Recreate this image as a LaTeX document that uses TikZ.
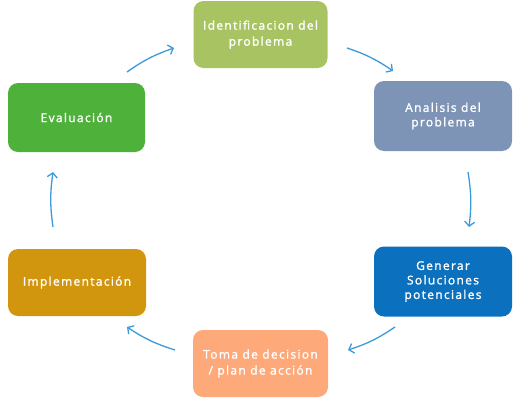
\documentclass[tikz,border=0pt]{standalone}
\usepackage{fontspec}
\setmainfont{Open Sans}[LetterSpace=11,FakeBold=1.5]
\usetikzlibrary{arrows.meta}
\definecolor{cId}{HTML}{A8C462}
\definecolor{cAn}{HTML}{7D94B7}
\definecolor{cGe}{HTML}{0B71BE}
\definecolor{cTo}{HTML}{FDA979}
\definecolor{cIm}{HTML}{D2960E}
\definecolor{cEv}{HTML}{4DB13A}
\definecolor{cAr}{HTML}{3A9BDA}
\begin{document}
\begin{tikzpicture}[x=1pt,y=-1pt,
  box/.style={rounded corners=10pt, draw=none, text=white, align=center,
    font=\fontsize{12}{16}\selectfont, inner sep=0pt},
  arr/.style={draw=cAr, line width=1.3pt, -{Straight Barb[length=4.5pt,width=10pt]}, bend left=8}]
\useasboundingbox (0,0) rectangle (522,402);
\node[box, fill=cId, minimum width=134pt, minimum height=67pt] (id) at (260.5,34.5) {Identificacion del\\problema};
\node[box, fill=cAn, minimum width=138pt, minimum height=70pt, font=\fontsize{12}{14.5}\selectfont] (an) at (443,116) {Analisis del\\problema};
\node[box, fill=cGe, minimum width=138pt, minimum height=70pt, font=\fontsize{12}{14.5}\selectfont] (ge) at (443,281.5) {Generar\\Soluciones\\potenciales};
\node[box, fill=cTo, minimum width=135pt, minimum height=67pt] (to) at (260.5,363.5) {Toma de decision\\/ plan de acción};
\node[box, fill=cIm, minimum width=138pt, minimum height=67pt] (im) at (77,282.5) {Implementación};
\node[box, fill=cEv, minimum width=137pt, minimum height=69pt] (ev) at (76.5,117.5) {Evaluación};
\coordinate (a1s) at (127,72); \coordinate (a1e) at (174,48);
\coordinate (a2s) at (347,48); \coordinate (a2e) at (393,71);
\coordinate (a3s) at (468,172); \coordinate (a3e) at (469,227);
\coordinate (a4s) at (395,327); \coordinate (a4e) at (348,350);
\coordinate (a5s) at (175,350); \coordinate (a5e) at (127,327);
\coordinate (a6s) at (53,227); \coordinate (a6e) at (53,172);
\draw[arr] (a1s) to (a1e);
\draw[arr] (a2s) to (a2e);
\draw[arr] (a3s) to (a3e);
\draw[arr] (a4s) to (a4e);
\draw[arr] (a5s) to (a5e);
\draw[arr] (a6s) to (a6e);
\end{tikzpicture}
\end{document}
